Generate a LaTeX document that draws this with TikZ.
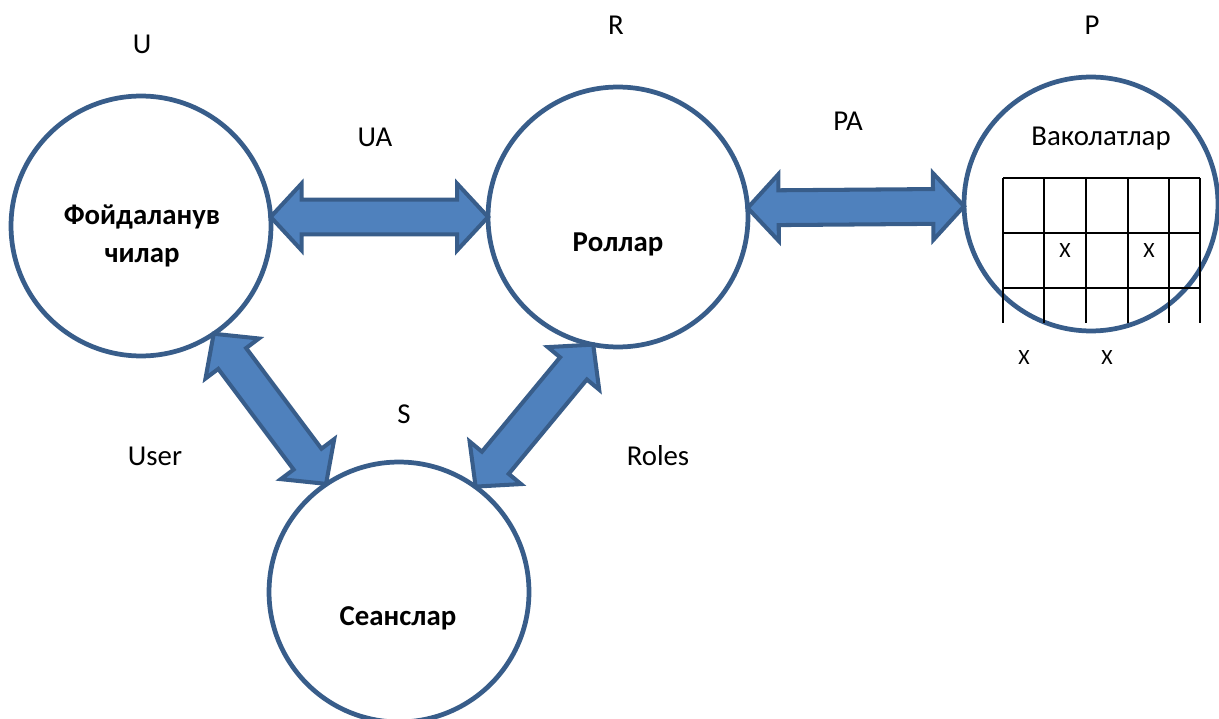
\documentclass[tikz,border=0pt]{standalone}
\usepackage{fontspec}
\setmainfont{Carlito}
\usetikzlibrary{calc}
\definecolor{rbacline}{RGB}{56,93,138}
\definecolor{rbacfill}{RGB}{79,129,189}

% two-headed block arrow from #1 to #2
\newcommand{\dblarrow}[2]{%
  \path let \p1=($(#2)-(#1)$) in
    \pgfextra{\pgfmathsetmacro{\arrang}{atan2(\y1,\x1)}%
      \pgfmathsetmacro{\arrtip}{veclen(\x1,\y1)}%
      \pgfmathsetmacro{\arrbase}{\arrtip-17.6}%
      \xdef\arrang{\arrang}\xdef\arrtip{\arrtip}\xdef\arrbase{\arrbase}};
  \filldraw[blockarrow, shift={(#1)}, rotate=\arrang]
    (0pt,0pt) -- (17.6pt,19pt) -- (17.6pt,9.9pt) -- (\arrbase pt,9.9pt)
    -- (\arrbase pt,19pt) -- (\arrtip pt,0pt) -- (\arrbase pt,-19pt)
    -- (\arrbase pt,-9.9pt) -- (17.6pt,-9.9pt) -- (17.6pt,-19pt) -- cycle;
}

\begin{document}
\begin{tikzpicture}[x=0.02cm, y=-0.02cm,
  rbacset/.style={circle, draw=rbacline, line width=2.7pt, minimum size=5.2cm,
    inner sep=0pt, outer sep=0pt},
  setname/.style={font=\bfseries\fontsize{16.4}{21.6}\selectfont, align=center},
  lbl/.style={font=\fontsize{16.4}{18}\selectfont, anchor=base},
  cellx/.style={font=\fontsize{12.4}{14}\selectfont, anchor=base},
  gridline/.style={black, line width=0.7pt},
  blockarrow/.style={fill=rbacfill, draw=rbacline, line width=2.3pt, line join=miter}]
\useasboundingbox (0,0) rectangle (1219,719);

% the four sets
\node[rbacset] (U) at (141,226) {};
\node[rbacset] (R) at (618,217) {};
\node[rbacset, minimum size=5.08cm] (P) at (1091,204) {};
\node[rbacset] (S) at (399,592) {};

% permission table
\foreach \gx in {1003,1044,1086,1128,1169,1200}
  \draw[gridline] (\gx,178) -- (\gx,323);
\foreach \gy in {178,233,288}
  \draw[gridline] (1003,\gy) -- (1200,\gy);
\node[cellx] (x1) at (1065,257) {X};
\node[cellx] (x2) at (1149,257) {X};
\node[cellx] (x3) at (1024,364) {X};
\node[cellx] (x4) at (1107,364) {X};

% relations
\dblarrow{U.4}{R.180}
\dblarrow{R.4.6}{P.181.3}
\dblarrow{U.-56}{S.124}
\dblarrow{R.-101}{S.54}

% names inside the sets
\node[setname] (Utext) at (142,236) {Фойдаланув\\чилар};
\node[setname, anchor=base] (Rtext) at (618,252) {Роллар};
\node[setname, anchor=base] (Stext) at (398,625) {Сеанслар};
\node[lbl] (Ptext) at (1101,146) {Ваколатлар};

% letters and relation labels
\node[lbl] (Ulbl) at (142,54) {U};
\node[lbl] (Rlbl) at (616,35) {R};
\node[lbl] (Plbl) at (1092,35) {P};
\node[lbl] (Slbl) at (404,423) {S};
\node[lbl] (UAlbl) at (375,147) {UA};
\node[lbl] (PAlbl) at (848,131) {PA};
\node[lbl] (Userlbl) at (155,465) {User};
\node[lbl] (Roleslbl) at (658,465) {Roles};
\end{tikzpicture}
\end{document}
